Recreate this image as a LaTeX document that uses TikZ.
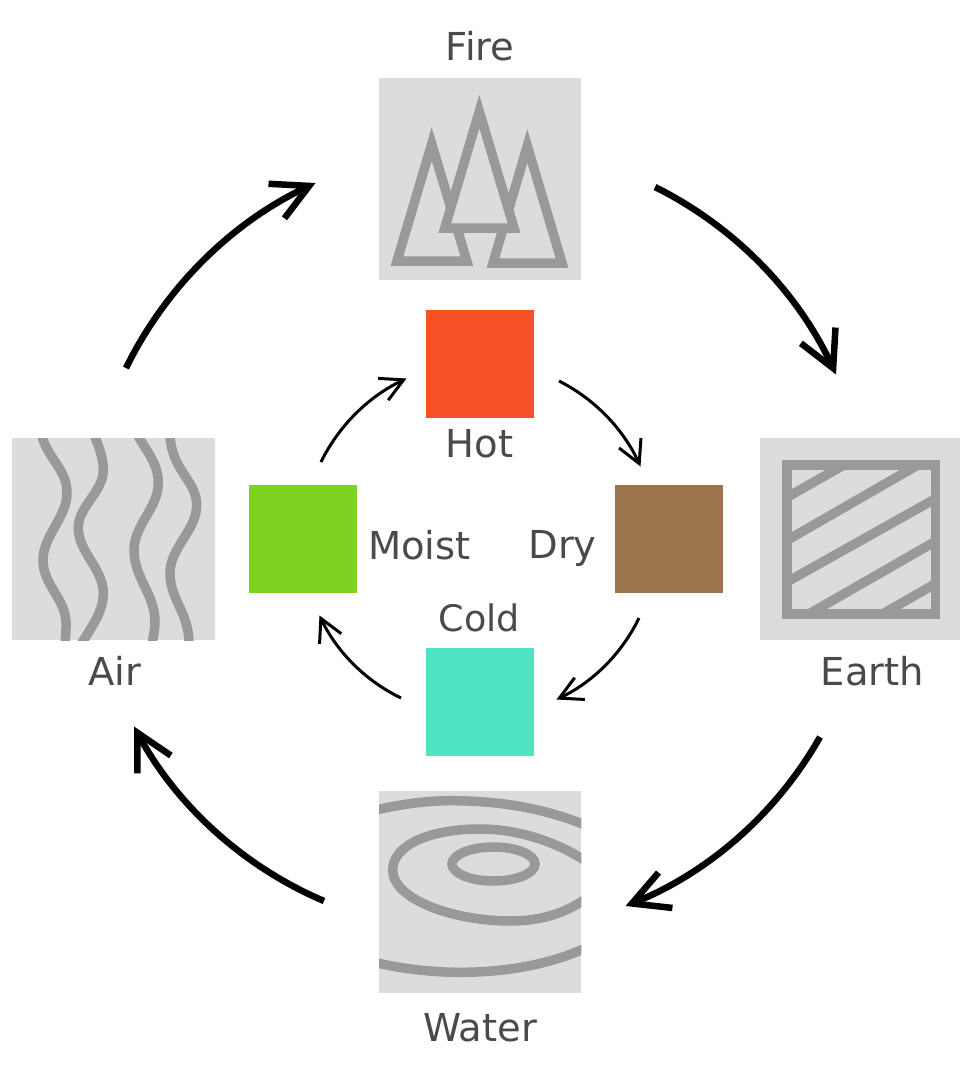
\documentclass[tikz,border=0pt]{standalone}
\usepackage{fontspec}
\setmainfont{DejaVu Sans}
\usetikzlibrary{arrows.meta}
\definecolor{tilebg}{HTML}{DCDCDC}
\definecolor{glyph}{HTML}{999999}
\definecolor{labelc}{HTML}{4A4A4A}
\definecolor{hotc}{HTML}{F55124}
\definecolor{moistc}{HTML}{7ED321}
\definecolor{dryc}{HTML}{9B734C}
\definecolor{coldc}{HTML}{50E3C2}
\pgfdeclarearrow{
  name=VBarb,
  defaults={length=35pt,width=37pt},
  parameters={\the\pgfarrowlength,\the\pgfarrowwidth},
  setup code={
    \pgfmathsetlengthmacro\vbarbtip{0.5*\pgflinewidth*veclen(\pgfarrowlength,0.5*\pgfarrowwidth)/(0.5*\pgfarrowwidth)}
    \pgfarrowssettipend{\vbarbtip}
    \pgfarrowssetlineend{0pt}
    \pgfarrowssavethe\pgfarrowlength
    \pgfarrowssavethe\pgfarrowwidth
  },
  drawing code={
    \pgfsetdash{}{0pt}
    \pgfsetmiterjoin
    \pgfsetmiterlimit{20}
    \pgfsetbuttcap
    \pgfpathmoveto{\pgfpoint{-\pgfarrowlength}{0.5\pgfarrowwidth}}
    \pgfpathlineto{\pgfpointorigin}
    \pgfpathlineto{\pgfpoint{-\pgfarrowlength}{-0.5\pgfarrowwidth}}
    \pgfusepathqstroke
  }
}
\tikzset{
  tile/.style={fill=tilebg,draw=none,minimum size=202.5pt,inner sep=0pt,outer sep=0pt},
  swatch/.style={draw=none,minimum size=108pt,inner sep=0pt,outer sep=0pt},
  glyphline/.style={draw=glyph,line width=9.5pt,miter limit=20,line join=miter},
  lab/.style={text=labelc,inner sep=0pt,font=\fontsize{38.5}{38.5}\selectfont},
  bigarrow/.style={draw=black,line width=6.5pt,-{VBarb[length=36pt,width=38pt]}},
  smallarrow/.style={draw=black,line width=3pt,-{VBarb[length=22.5pt,width=24pt]}},
  arcleft/.style={bend left=19.5,looseness=.877},
}
\begin{document}
\begin{tikzpicture}[x=1pt,y=-1pt]
\useasboundingbox (0,0) rectangle (960,1077);
% tiles
\node[tile] (fire) at (480,179) {};
\node[tile] (air) at (113.7,539.2) {};
\node[tile] (earth) at (861.2,539.2) {};
\node[tile] (water) at (480,892.2) {};
% fire glyph
\draw[glyphline] (397,261) -- (431.7,144) -- (466.8,261) -- cycle;
\draw[glyphline] (493,263) -- (527.3,146) -- (562,263) -- cycle;
\draw[glyphline,fill=tilebg] (444.8,228) -- (479.3,111.5) -- (514,228) -- cycle;
% air glyph
\begin{scope}
\clip (12.4,438) rectangle (215,640.4);
\draw[glyphline] (41,432) .. controls (46,458) and (67,468) .. (67,493) .. controls (67,517) and (43,536) .. (43,560) .. controls (43,585) and (65,598) .. (66,622) .. controls (66.3,630) and (65.5,637) .. (65,644);
\draw[glyphline] (93,432) .. controls (98,445) and (103.3,456) .. (103.3,470) .. controls (103.3,492) and (78.3,506) .. (78.3,528) .. controls (78.3,552) and (103.3,569) .. (103.3,593) .. controls (103.3,612) and (92,626) .. (80,646);
\draw[glyphline] (136,432) .. controls (145,450) and (158.3,462) .. (158.3,483) .. controls (158.3,508) and (134,525) .. (134,550) .. controls (134,578) and (155,594) .. (155,622) .. controls (155,630) and (153,637) .. (152,644);
\draw[glyphline] (170,432) .. controls (170,470) and (196.7,480) .. (196.7,505) .. controls (196.7,530) and (170,548) .. (170,573) .. controls (170,600) and (189,612) .. (189,644);
\end{scope}
% earth glyph
\draw[glyphline] (787.2,465.2) rectangle (935.4,613.8);
\draw[glyphline] (787.2,497.2) -- (843.5,465.2);
\draw[glyphline] (787.2,540.2) -- (917.5,465.2);
\draw[glyphline] (787.2,581.8) -- (935.2,498.8);
\draw[glyphline] (809.4,613.7) -- (935.2,541.5);
\draw[glyphline] (883,613.7) -- (935.2,583.8);
% water glyph
\begin{scope}
\clip (379,791) rectangle (581.3,993.4);
\draw[glyphline] (370,811.5) .. controls (395,805) and (425,800.7) .. (450,800.7) .. controls (500,800.7) and (545,808) .. (590,827);
\draw[glyphline] (590,864) .. controls (560,843) and (520,829) .. (480,829) .. controls (430,829) and (392.7,845) .. (392.7,870) .. controls (392.7,900) and (455,921) .. (510,921) .. controls (540,921) and (565,914) .. (590,896);
\draw[glyphline] (493.5,864) ellipse [x radius=41.5,y radius=17];
\draw[glyphline] (370,961) .. controls (395,968) and (430,972.3) .. (460,972.3) .. controls (505,972.3) and (550,965) .. (590,946);
\end{scope}
% swatches
\node[swatch,fill=hotc] (hot) at (480,364) {};
\node[swatch,fill=moistc] (moist) at (303,539) {};
\node[swatch,fill=dryc] (dry) at (669,539) {};
\node[swatch,fill=coldc] (cold) at (480,702) {};
% labels
\node[lab] (lfire) at (480,46) {Fire};
\node[lab] (lair) at (115,671) {Air};
\node[lab] (learth) at (872.5,671) {Earth};
\node[lab] (lwater) at (480,1028) {Water};
\node[lab] (lhot) at (479.5,444) {Hot};
\node[lab,font=\fontsize{36.5}{36.5}\selectfont] (lcold) at (479.5,618) {Cold};
\node[lab] (lmoist) at (419.5,545) {Moist};
\node[lab] (ldry) at (562.5,548) {Dry};
% arrow ends
\coordinate (a1) at (126,368); \coordinate (a2) at (315.5,183);
\coordinate (b1) at (655,187); \coordinate (b2) at (836,374.5);
\coordinate (c1) at (820,737); \coordinate (c2) at (625.5,906);
\coordinate (d1) at (324,901); \coordinate (d2) at (134,726.5);
\coordinate (e1) at (321,462); \coordinate (e2) at (406.5,378.5);
\coordinate (f1) at (559,381); \coordinate (f2) at (640.5,466.5);
\coordinate (g1) at (639,618); \coordinate (g2) at (556.5,699.5);
\coordinate (h1) at (401,698); \coordinate (h2) at (319.5,615.5);
\draw[bigarrow] (a1) to[arcleft] (a2);
\draw[bigarrow] (b1) to[arcleft] (b2);
\draw[bigarrow] (c1) to[arcleft] (c2);
\draw[bigarrow] (d1) to[arcleft] (d2);
\draw[smallarrow] (e1) to[arcleft] (e2);
\draw[smallarrow] (f1) to[arcleft] (f2);
\draw[smallarrow] (g1) to[arcleft] (g2);
\draw[smallarrow] (h1) to[arcleft] (h2);
\end{tikzpicture}
\end{document}
